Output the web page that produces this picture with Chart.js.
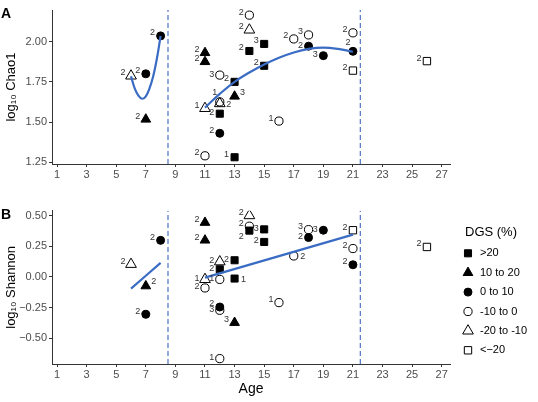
<!DOCTYPE html>
<html><head><meta charset="utf-8">
<script src="https://cdn.jsdelivr.net/npm/chart.js@4/dist/chart.umd.min.js"></script>
<style>
html,body{margin:0;padding:0;background:#fff;}
#wrap{position:relative;width:538px;height:402px;overflow:hidden;font-family:"Liberation Sans",Arial,Helvetica,sans-serif;}
canvas{position:absolute;left:0;}
#cA{top:0;} #cB{top:190px;}
.pl{position:absolute;left:1px;font-weight:bold;font-size:14px;line-height:14px;color:#000;}
</style></head><body>
<div id="wrap">
<canvas id="cA" width="538" height="190"></canvas>
<canvas id="cB" width="538" height="212"></canvas>
<div class="pl" style="top:6px">A</div>
<div class="pl" style="top:207px">B</div>
</div>
<script>
// ---- axes / categories ----
const xTicks = [1,3,5,7,9,11,13,15,17,19,21,23,25,27];
const chaoTicks = [1.25,1.5,1.75,2.0];
const shannonTicks = [-0.5,-0.25,0,0.25,0.5];
const ageRange = [0.66, 27.56];
const chaoRange = [1.239, 2.197];
const shannonRange = [-0.713, 0.543];
const cutoffAges = [8.5, 21.5];
const dgsLabels = ['>20','10 to 20','0 to 10','-10 to 0','-20 to -10','<\u221220'];

// ---- panel A: log10 Chao1, points [age, value, n] ----
const chaoGt20   = [[13,1.75,2],[14,1.942,2],[15,1.986,3],[15,1.85,2],[12,1.552,2],[13,1.281,1]];
const chao10to20 = [[7,1.517,2],[11,1.931,2],[11,1.875,2],[13,1.66,3]];
const chao0to10  = [[8,2.036,2],[7,1.80,2],[18,1.972,2],[19,1.913,3],[21,1.94,2],[12,1.43,2]];
const chaoM10to0 = [[14,2.165,2],[17,2.017,2],[18,2.042,3],[12,1.792,3],[12,1.625,1],[16,1.506,1],[11,1.29,2],[21,2.055,2]];
const chaoM20toM10 = [[6,1.787,2],[14,2.073,2],[11,1.585,1],[12,1.615,2]];
const chaoLtM20  = [[21,1.82,2],[26,1.879,2]];
// smooth fit curves
const chaoFit1X = [6,6.25,6.5,6.75,7,7.25,7.5,7.75,8];
const chaoFit1Y = [1.785,1.71,1.665,1.645,1.66,1.71,1.785,1.895,2.035];
const chaoFit2X = [11,12,13,14,15,16,17,18,19,20,21];
const chaoFit2Y = [1.59,1.675,1.75,1.808,1.858,1.90,1.933,1.955,1.963,1.955,1.937];

// ---- panel B: log10 Shannon ----
const shanGt20   = [[14,0.38,2],[15,0.39,3],[15,0.287,2],[13,0.137,2],[12,0.063,2],[13,-0.013,1]];
const shan10to20 = [[11,0.446,2],[11,0.301,2],[7,-0.074,2],[13,-0.374,3]];
const shan0to10  = [[8,0.30,2],[7,-0.306,2],[18,0.323,2],[19,0.383,3],[21,0.10,2],[12,-0.246,2]];
const shanM10to0 = [[14,0.416,2],[18,0.388,3],[17,0.172,2],[12,-0.02,1],[11,-0.09,2],[16,-0.21,1],[12,-0.273,3],[12,-0.669,1],[21,0.233,2]];
const shanM20toM10 = [[6,0.104,2],[14,0.503,2],[12,0.125,2],[11,-0.02,1]];
const shanLtM20  = [[21,0.383,2],[26,0.246,2]];
const shanFit1X = [6,8];
const shanFit1Y = [-0.095,0.115];
const shanFit2X = [11,21];
const shanFit2Y = [-0.005,0.347];

// ---- label placement (kept separate from data) ----
const chaoPlaces = [
  ['ul','ul','ul','ul','l','ul'],
  ['ul','ul','ul','ur'],
  ['ul','ul','l','l','u','ul'],
  ['ul','ul','ul','l','u','ul','ul','ul'],
  ['ul','ul','ul','r'],
  ['ul','ul']
];
const shanPlaces = [
  ['ll','l','l','l','l','r'],
  ['ul','ul','ur','ul'],
  ['ul','ul','l','l','ul','ul'],
  ['ul','ul','r','l','l','ul','l','l','ul'],
  ['ul','ul','l','l'],
  ['ul','ul']
];
const labelOffsets = {ul:[-8,-3], l:[-8,-1], ll:[-8,6], r:[9,1], ur:[8,-4], u:[-5,-9]};

// ---- styles ----
const FONT = '"Liberation Sans", Arial, Helvetica, sans-serif';
const markerStyles = [
  {shape:'rect', r:5, fill:true},
  {shape:'triangle', r:5.6, fill:true},
  {shape:'circle', r:4, fill:true},
  {shape:'circle', r:4.1, fill:false},
  {shape:'triangle', r:6.2, fill:false},
  {shape:'rect', r:5.2, fill:false}
];
const fitColor = '#3a6cc4';
const cutColor = '#5b7fca';
const axisColor = '#333333';
const tickColor = '#4d4d4d';

Chart.defaults.font.family = FONT;

function pointSets(groups, places){
  return groups.map((g,k)=>({
    label: dgsLabels[k],
    data: g.map(p=>({x:p[0], y:p[1]})),
    counts: g.map(p=>p[2]),
    places: places[k],
    showLine:false,
    pointStyle: markerStyles[k].shape,
    pointRadius: markerStyles[k].r,
    pointHoverRadius: markerStyles[k].r,
    pointBackgroundColor: markerStyles[k].fill ? '#000' : 'rgba(0,0,0,0)',
    pointBorderColor: '#000',
    pointBorderWidth: 1,
    order: k+1
  }));
}
function lineSet(xs, ys){
  return {data: xs.map((x,i)=>({x:x, y:ys[i]})), showLine:true, pointRadius:0, pointHoverRadius:0,
    borderColor:fitColor, borderWidth:2.2, tension:0.4, fill:false, order:0};
}
function cutSets(range){
  return cutoffAges.map(c=>({data:[{x:c,y:range[0]},{x:c,y:range[1]}], showLine:true, pointRadius:0,
    pointHoverRadius:0, borderColor:cutColor, borderWidth:1.3, borderDash:[5,3], fill:false, order:10}));
}
function fmtY(v){ return (v<0?'\u2212':'') + Math.abs(v).toFixed(2); }

function xScale(withTitle){
  return {
    type:'linear', position:'bottom', min:ageRange[0], max:ageRange[1],
    afterBuildTicks: s=>{ s.ticks = xTicks.map(v=>({value:v})); },
    afterFit: s=>{ s.height = withTitle ? 38 : 26; },
    ticks:{color:tickColor, font:{size:11}, padding:1, maxRotation:0, autoSkip:false, callback:v=>String(v)},
    grid:{display:true, drawOnChartArea:false, drawTicks:true, tickLength:3, tickColor:axisColor, color:axisColor},
    border:{display:true, color:axisColor, width:1},
    title: withTitle ? {display:true, text:'Age', color:'#000', font:{size:14}, padding:{top:0,bottom:4}} : {display:false}
  };
}
function yScale(range, ticks, title){
  return {
    type:'linear', position:'left', min:range[0], max:range[1],
    afterBuildTicks: s=>{ s.ticks = ticks.map(v=>({value:v})); },
    afterFit: s=>{ s.width = 52; },
    ticks:{color:tickColor, font:{size:11}, padding:2, callback:v=>fmtY(v)},
    grid:{display:true, drawOnChartArea:false, drawTicks:true, tickLength:3, tickColor:axisColor, color:axisColor},
    border:{display:true, color:axisColor, width:1},
    title:{display:true, text:title, color:'#000', font:{size:13}, padding:{top:4,bottom:0}}
  };
}

const countLabels = {
  id:'countLabels',
  afterDatasetsDraw(chart){
    const ctx = chart.ctx;
    ctx.save();
    ctx.font = '9px ' + FONT;
    ctx.fillStyle = '#333';
    ctx.textAlign = 'center';
    ctx.textBaseline = 'middle';
    chart.data.datasets.forEach((ds,i)=>{
      if(!ds.counts) return;
      const meta = chart.getDatasetMeta(i);
      meta.data.forEach((el,j)=>{
        const off = labelOffsets[(ds.places && ds.places[j]) || 'ul'];
        ctx.fillText(String(ds.counts[j]), el.x+off[0], el.y+off[1]);
      });
    });
    ctx.restore();
  }
};

function drawMarker(ctx, st, x, y){
  ctx.save();
  ctx.fillStyle = st.fill ? '#000' : 'rgba(0,0,0,0)';
  ctx.strokeStyle = '#000';
  ctx.lineWidth = 1;
  if (Chart.helpers && Chart.helpers.drawPoint){
    Chart.helpers.drawPoint(ctx, {pointStyle:st.shape, radius:st.r, borderWidth:1, rotation:0}, x, y);
  } else {
    ctx.beginPath();
    if (st.shape==='circle'){ ctx.arc(x,y,st.r,0,Math.PI*2); }
    else if (st.shape==='rect'){ const h=st.r/Math.SQRT2; ctx.rect(x-h,y-h,2*h,2*h); }
    else { for(let a=0;a<3;a++){ const t=a*2*Math.PI/3; const px=x+Math.sin(t)*st.r, py=y-Math.cos(t)*st.r; a?ctx.lineTo(px,py):ctx.moveTo(px,py);} ctx.closePath(); }
    ctx.fill(); ctx.stroke();
  }
  ctx.restore();
}

const dgsLegend = {
  id:'dgsLegend',
  afterDraw(chart){
    const ctx = chart.ctx;
    ctx.save();
    ctx.fillStyle = '#000';
    ctx.textAlign = 'left';
    ctx.textBaseline = 'middle';
    ctx.font = '13px ' + FONT;
    ctx.fillText('DGS (%)', 465, 42);
    ctx.font = '11px ' + FONT;
    dgsLabels.forEach((t,k)=>{
      const y = 63.3 + k*19.4;
      drawMarker(ctx, markerStyles[k], 468, y);
      ctx.fillStyle = '#000';
      ctx.fillText(t, 480, y);
    });
    ctx.restore();
  }
};

function makeChart(id, datasets, yS, xS, pad, extraPlugins){
  return new Chart(document.getElementById(id), {
    type:'scatter',
    data:{datasets:datasets},
    options:{
      responsive:false, animation:false, events:[],
      devicePixelRatio:1,
      layout:{padding:pad},
      plugins:{legend:{display:false}, tooltip:{enabled:false}, title:{display:false}},
      scales:{x:xS, y:yS}
    },
    plugins:[countLabels].concat(extraPlugins||[])
  });
}

const dsA = [lineSet(chaoFit1X, chaoFit1Y), lineSet(chaoFit2X, chaoFit2Y)]
  .concat(pointSets([chaoGt20, chao10to20, chao0to10, chaoM10to0, chaoM20toM10, chaoLtM20], chaoPlaces))
  .concat(cutSets(chaoRange));
const dsB = [lineSet(shanFit1X, shanFit1Y), lineSet(shanFit2X, shanFit2Y)]
  .concat(pointSets([shanGt20, shan10to20, shan0to10, shanM10to0, shanM20toM10, shanLtM20], shanPlaces))
  .concat(cutSets(shannonRange));

makeChart('cA', dsA, yScale(chaoRange, chaoTicks, 'log\u2081\u2080 Chao1'), xScale(false),
  {left:0, top:10, right:88, bottom:0});
makeChart('cB', dsB, yScale(shannonRange, shannonTicks, 'log\u2081\u2080 Shannon'), xScale(true),
  {left:0, top:20.7, right:88, bottom:0}, [dgsLegend]);
</script>
</body></html>
